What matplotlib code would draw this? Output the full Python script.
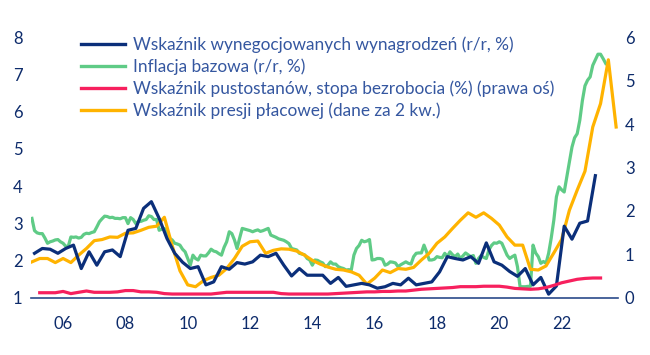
import numpy as np
import matplotlib
matplotlib.use("Agg")
import matplotlib.pyplot as plt
from matplotlib.lines import Line2D

plt.rcParams['font.family'] = ['Lato', 'DejaVu Sans']

# ---- data ----
labels = ["Wskaźnik wynegocjowanych wynagrodzeń (r/r, %)",
          "Inflacja bazowa (r/r, %)",
          "Wskaźnik pustostanów, stopa bezrobocia (%) (prawa oś)",
          "Wskaźnik presji płacowej (dane za 2 kw.)"]
xtick_years = [2006, 2008, 2010, 2012, 2014, 2016, 2018, 2020, 2022]
xtick_labels = ["06", "08", "10", "12", "14", "16", "18", "20", "22"]

# quarterly, 2005Q1 - 2023Q1
wages_q = [2.19, 2.32, 2.30, 2.19,
           2.32, 2.41, 1.78, 2.23,
           1.87, 2.23, 2.28, 2.10,
           2.81, 2.86, 3.40, 3.58,
           3.13, 2.59, 2.19, 1.95,
           1.78, 1.83, 1.34, 1.42,
           1.83, 1.76, 1.94, 1.90,
           1.96, 2.14, 2.10, 2.19,
           1.87, 1.58, 1.78, 1.60,
           1.60, 1.60, 1.38, 1.54,
           1.30, 1.34, 1.38, 1.34,
           1.25, 1.29, 1.38, 1.34,
           1.52, 1.34, 1.38, 1.42,
           1.69, 2.10, 2.05, 2.01,
           2.10, 1.92, 2.47, 1.96,
           1.87, 1.70, 1.57, 1.78,
           1.34, 1.54, 1.09, 1.31,
           2.92, 2.57, 3.00, 3.06,
           4.28]

# monthly, 2005-01 - 2023-06
core_m = [3.13, 2.80, 2.74, 2.72, 2.72, 2.60, 2.46, 2.50, 2.52, 2.55, 2.56, 2.50,
          2.46, 2.38, 2.38, 2.63, 2.62, 2.63, 2.60, 2.62, 2.70, 2.73, 2.72, 2.75,
          2.77, 2.90, 3.04, 3.12, 3.19, 3.18, 3.15, 3.16, 3.13, 3.13, 3.12, 3.15,
          3.15, 2.99, 3.15, 3.10, 2.99, 3.05, 3.05, 3.08, 3.10, 3.20, 3.18, 3.10,
          3.10, 2.81, 2.84, 2.86, 2.70, 2.59, 2.55, 2.46, 2.44, 2.41, 2.30, 2.23,
          2.05, 1.87, 2.14, 2.05, 2.01, 2.14, 2.12, 2.12, 2.20, 2.30, 2.25, 2.23,
          2.18, 2.14, 2.35, 2.50, 2.77, 2.72, 2.55, 2.32, 2.60, 2.86, 2.84, 2.82,
          2.80, 2.77, 2.80, 2.82, 2.78, 2.80, 2.83, 2.86, 2.68, 2.65, 2.62, 2.58,
          2.56, 2.54, 2.50, 2.45, 2.32, 2.30, 2.28, 2.19, 2.17, 2.15, 2.05, 2.01,
          1.87, 2.01, 2.00, 1.96, 1.93, 1.83, 1.87, 1.96, 1.90, 1.90, 1.83, 1.80,
          1.78, 1.74, 1.75, 1.74, 2.14, 2.32, 2.40, 2.54, 2.50, 2.52, 2.56, 2.01,
          2.02, 2.05, 2.05, 2.03, 1.87, 1.90, 1.96, 1.95, 1.93, 1.83, 1.88, 1.92,
          1.96, 1.92, 1.90, 2.10, 2.19, 2.20, 2.20, 2.41, 2.23, 2.01, 2.01, 2.03,
          2.10, 2.08, 2.07, 2.19, 2.10, 2.23, 2.15, 2.10, 2.17, 2.05, 2.12, 2.20,
          2.15, 2.10, 2.13, 1.92, 2.05, 2.13, 2.08, 2.05, 2.28, 2.40, 2.47, 2.46,
          2.50, 2.46, 2.30, 2.14, 2.05, 2.10, 2.14, 1.83, 1.29, 1.29, 1.29, 1.30,
          1.30, 2.41, 2.20, 2.10, 1.92, 1.97, 1.92, 2.19, 2.60, 3.08, 3.71, 3.98,
          3.90, 3.84, 4.25, 4.65, 5.05, 5.30, 5.41, 5.77, 6.30, 6.70, 6.85, 6.94,
          7.25, 7.40, 7.55, 7.55, 7.43, 7.30]

# quarterly, 2005Q2 - 2023Q2 (right axis)
vacancy_q = [0.11, 0.11, 0.11,
             0.14, 0.09, 0.12, 0.15,
             0.12, 0.12, 0.12, 0.13,
             0.16, 0.16, 0.13, 0.13,
             0.12, 0.09, 0.08, 0.08,
             0.08, 0.08, 0.08, 0.08,
             0.10, 0.12, 0.12, 0.12,
             0.12, 0.12, 0.12, 0.12,
             0.09, 0.08, 0.08, 0.08,
             0.08, 0.08, 0.08, 0.09,
             0.10, 0.11, 0.12, 0.13,
             0.13, 0.14, 0.14, 0.15,
             0.15, 0.17, 0.19, 0.20,
             0.21, 0.22, 0.23, 0.25,
             0.25, 0.25, 0.26, 0.26,
             0.26, 0.24, 0.21, 0.20,
             0.19, 0.20, 0.23, 0.28,
             0.34, 0.38, 0.42, 0.44,
             0.45, 0.45]

# quarterly, 2005Q1 - 2023Q4
pressure_q = [1.96, 2.05, 2.05, 1.94,
              2.05, 1.94, 2.14, 2.32,
              2.53, 2.56, 2.63, 2.62,
              2.73, 2.74, 2.81, 2.89,
              2.92, 3.16, 2.40, 1.72,
              1.34, 1.29, 1.45, 1.54,
              1.60, 1.78, 2.05, 2.38,
              2.50, 2.52, 2.19, 2.27,
              2.31, 2.30, 2.25, 2.14,
              2.00, 1.90, 1.82, 1.76,
              1.74, 1.69, 1.60, 1.36,
              1.52, 1.74, 1.67, 1.78,
              1.76, 1.81, 2.01, 2.19,
              2.46, 2.63, 2.86, 3.08,
              3.28, 3.16, 3.28, 3.13,
              2.95, 2.63, 2.41, 2.41,
              1.76, 1.74, 1.85, 2.20,
              2.56, 3.35, 3.89, 4.40,
              5.59, 6.22, 7.40, 5.59]

# ---- time positions (decimal years) ----
t_wages = 2005 + 1/12 + 0.25 * np.arange(len(wages_q))
t_core = 2005 + np.arange(len(core_m)) / 12
t_vac = 2005.25 + 0.25 * np.arange(len(vacancy_q))
t_press = 2005.0 + 0.25 * np.arange(len(pressure_q))

c_navy = "#0B2F7A"
c_green = "#5FCB86"
c_pink = "#F7205E"
c_yellow = "#FFB300"
c_tick = "#0D2B6B"
c_legend = "#3557A0"

fig = plt.figure(figsize=(6.5, 3.55), dpi=100)
ax = fig.add_axes([31/650, 1 - 297.5/355, (618-31)/650, (297.5-37.5)/355])
ax2 = ax.twinx()

lw = 2.3
ax.plot(t_core, core_m, color=c_green, lw=lw, zorder=2, solid_joinstyle='round')
ax.plot(t_press, pressure_q, color=c_yellow, lw=lw, zorder=3, solid_joinstyle='round')
ax.plot(t_wages, wages_q, color=c_navy, lw=lw, zorder=4, solid_joinstyle='round')
ax2.plot(t_vac, vacancy_q, color=c_pink, lw=lw, solid_joinstyle='round')

ax.set_xlim(2004.97, 2023.81)
ax.set_ylim(1, 8)
ax2.set_ylim(0, 6)
ax.set_yticks(range(1, 9))
ax2.set_yticks(range(0, 7))
ax.set_xticks(xtick_years)
ax.set_xticklabels(xtick_labels)

for a in (ax, ax2):
    for s in ("top", "left", "right", "bottom"):
        a.spines[s].set_visible(False)
ax.spines["bottom"].set_visible(True)
ax.spines["bottom"].set_color("#2A4A8A")
ax.spines["bottom"].set_linewidth(1.2)

ax.tick_params(axis='x', length=0, pad=13, labelsize=12, labelcolor=c_tick)
ax.tick_params(axis='y', length=0, pad=6, labelsize=12, labelcolor=c_tick)
ax2.tick_params(axis='y', length=0, pad=5, labelsize=12, labelcolor=c_tick)

handles = [Line2D([], [], color=c, lw=2.4) for c in (c_navy, c_green, c_pink, c_yellow)]
leg = fig.legend(handles, labels, loc="upper left", bbox_to_anchor=(81.5/650, 1 - 36/355),
                 frameon=False, fontsize=12.4, handlelength=2.5, handletextpad=0.5,
                 labelspacing=0.33, borderaxespad=0, borderpad=0)
for txt in leg.get_texts():
    txt.set_color(c_legend)

fig.savefig("out.png", dpi=100)
